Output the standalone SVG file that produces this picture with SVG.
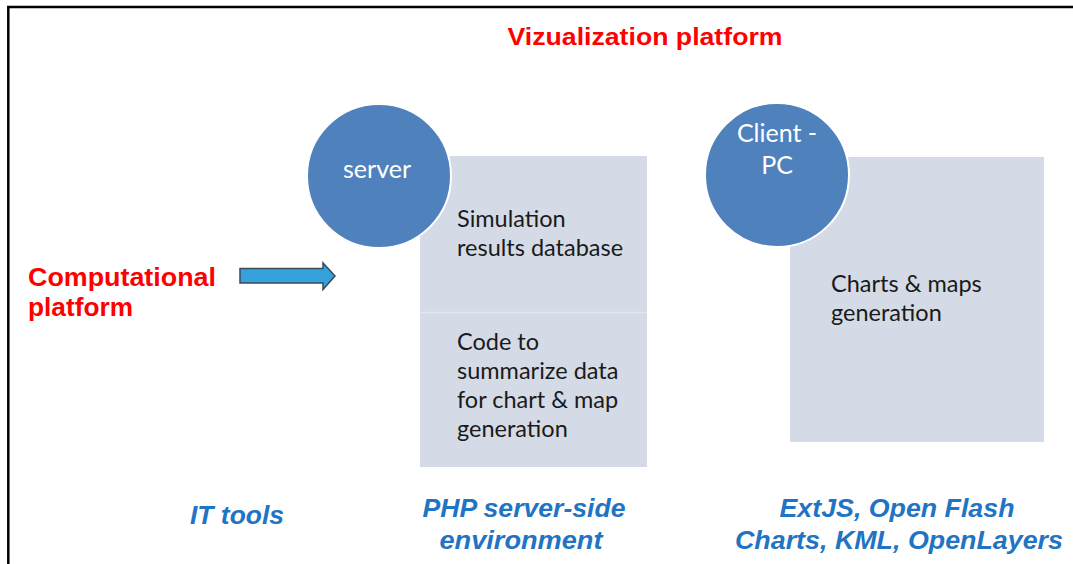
<svg xmlns="http://www.w3.org/2000/svg" width="1073" height="564" viewBox="0 0 1073 564">
<style>
.frame{stroke:#000;stroke-width:2.5;fill:none}
.circ{fill:#4f81bd;stroke:#fff;stroke-width:2}
.box{fill:#d4dae6}
.ctext{font-family:Lato,"Open Sans",sans-serif;font-size:25px;fill:#fff;text-anchor:middle}
.btext{font-family:Lato,"Open Sans",sans-serif;font-size:23.5px;fill:#1a1a1a}
.red{font-family:"Liberation Sans",Arial,sans-serif;font-weight:bold;fill:#ff0000}
.blue{font-family:"Liberation Sans",Arial,sans-serif;font-weight:bold;font-style:italic;font-size:25px;fill:#1f74c4;text-anchor:middle}
</style>
<rect width="1073" height="564" fill="#fff"/>
<path class="frame" d="M8.3,564 V7 H1073"/>
<g id="title"><text class="red" x="645" y="45" font-size="24" text-anchor="middle" textLength="275" lengthAdjust="spacingAndGlyphs">Vizualization platform</text></g>
<g id="computational"><text class="red" font-size="25"><tspan x="28" y="286" textLength="188" lengthAdjust="spacingAndGlyphs">Computational</tspan><tspan x="28" y="316" textLength="105" lengthAdjust="spacingAndGlyphs">platform</tspan></text></g>
<g id="server-box">
<rect class="box" x="420" y="156" width="227" height="156"/>
<rect class="box" x="420" y="313" width="227" height="154"/>
<line x1="420" y1="312.5" x2="647" y2="312.5" stroke="#e2e6ef" stroke-width="1.5"/>
<text class="btext"><tspan x="457" y="227">Simulation</tspan><tspan x="457" y="256">results database</tspan></text>
<text class="btext"><tspan x="457" y="350">Code to</tspan><tspan x="457" y="379">summarize data</tspan><tspan x="457" y="408">for chart &amp; map</tspan><tspan x="457" y="437">generation</tspan></text>
</g>
<g id="server"><circle class="circ" cx="379" cy="176" r="72"/><text class="ctext" x="377" y="178">server</text></g>
<g id="client-box">
<rect class="box" x="790" y="157" width="254" height="285"/>
<text class="btext"><tspan x="831" y="292">Charts &amp; maps</tspan><tspan x="831" y="321">generation</tspan></text>
</g>
<g id="client"><circle class="circ" cx="777" cy="175" r="72"/><text class="ctext"><tspan x="777" y="142">Client -</tspan><tspan x="777" y="174">PC</tspan></text></g>
<g id="connectors"><path d="M240,268.5 H323 V263 L335,276 L323,289.5 V283 H240 Z" fill="#36a2dc" stroke="#3c4a5a" stroke-width="1.5"/></g>
<g id="labels">
<text class="blue" x="237" y="524" textLength="94" lengthAdjust="spacingAndGlyphs">IT tools</text>
<text class="blue"><tspan x="524" y="517" textLength="203" lengthAdjust="spacingAndGlyphs">PHP server-side</tspan><tspan x="521" y="549" textLength="163" lengthAdjust="spacingAndGlyphs">environment</tspan></text>
<text class="blue"><tspan x="897" y="517" textLength="235" lengthAdjust="spacingAndGlyphs">ExtJS, Open Flash</tspan><tspan x="899" y="549" textLength="328" lengthAdjust="spacingAndGlyphs">Charts, KML, OpenLayers</tspan></text>
</g>
</svg>
